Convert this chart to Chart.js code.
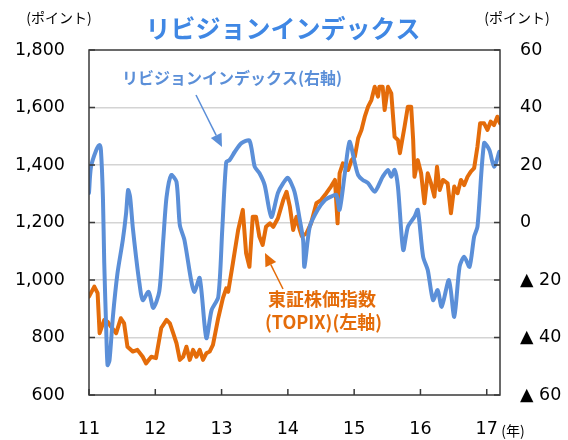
<!DOCTYPE html>
<html lang="ja">
<head>
<meta charset="utf-8">
<title>リビジョンインデックス</title>
<script src="https://cdn.jsdelivr.net/npm/chart.js@4.4.1/dist/chart.umd.min.js"></script>
<style>
  html, body { margin: 0; padding: 0; background: #fff; }
  #wrap { width: 568px; height: 440px; }
</style>
</head>
<body>
<div id="wrap"><canvas id="chart" width="568" height="440"></canvas></div>
<script>
// TOPIX (left axis)
const topixDates = [
    2011.00, 2011.08, 2011.13, 2011.16, 2011.23, 2011.28, 2011.33, 2011.41, 2011.48, 2011.53,
    2011.58, 2011.66, 2011.73, 2011.81, 2011.86, 2011.94, 2012.01, 2012.09, 2012.17, 2012.22,
    2012.27, 2012.32, 2012.37, 2012.42, 2012.47, 2012.52, 2012.57, 2012.62, 2012.67, 2012.72,
    2012.77, 2012.82, 2012.87, 2012.95, 2013.02, 2013.07, 2013.10, 2013.17, 2013.25, 2013.32,
    2013.37, 2013.42, 2013.47, 2013.52, 2013.57, 2013.62, 2013.67, 2013.73, 2013.78, 2013.85,
    2013.93, 2013.98, 2014.03, 2014.08, 2014.13, 2014.18, 2014.21, 2014.28, 2014.35, 2014.43,
    2014.50, 2014.58, 2014.65, 2014.71, 2014.75, 2014.78, 2014.83, 2014.91, 2014.96, 2015.01,
    2015.06, 2015.11, 2015.16, 2015.21, 2015.26, 2015.31, 2015.36, 2015.38, 2015.43, 2015.46,
    2015.51, 2015.56, 2015.61, 2015.66, 2015.69, 2015.76, 2015.81, 2015.86, 2015.89, 2015.91,
    2015.96, 2016.01, 2016.06, 2016.11, 2016.16, 2016.21, 2016.25, 2016.29, 2016.34, 2016.41,
    2016.46, 2016.51, 2016.56, 2016.61, 2016.66, 2016.71, 2016.76, 2016.81, 2016.86, 2016.90,
    2016.96, 2017.01, 2017.06, 2017.11, 2017.16, 2017.20
];
const topixValues = [
    942, 977, 954, 815, 861, 855, 838, 815, 867, 849,
    768, 751, 757, 733, 710, 733, 728, 833, 861, 849,
    815, 780, 722, 733, 768, 722, 757, 733, 757, 722,
    745, 751, 774, 868, 937, 971, 959, 1058, 1174, 1244,
    1093, 1046, 1220, 1220, 1151, 1122, 1185, 1197, 1185, 1215,
    1278, 1307, 1255, 1174, 1220, 1174, 1153, 1162, 1197, 1267,
    1278, 1302, 1325, 1348, 1197, 1371, 1406, 1383, 1417, 1429,
    1493, 1522, 1568, 1603, 1626, 1672, 1638, 1672, 1672, 1591,
    1672, 1649, 1498, 1487, 1441, 1533, 1603, 1603, 1487, 1359,
    1417, 1371, 1267, 1371, 1336, 1290, 1394, 1313, 1348, 1336,
    1232, 1325, 1302, 1348, 1330, 1359, 1377, 1389, 1464, 1545,
    1545, 1522, 1551, 1539, 1568, 1545
];

// revision index (right axis)
const revDates = [
    2011.00, 2011.03, 2011.11, 2011.16, 2011.18, 2011.21, 2011.23, 2011.26, 2011.28, 2011.31,
    2011.36, 2011.43, 2011.51, 2011.56, 2011.59, 2011.62, 2011.66, 2011.71, 2011.76, 2011.81,
    2011.90, 2011.97, 2012.06, 2012.12, 2012.17, 2012.24, 2012.32, 2012.37, 2012.44, 2012.54,
    2012.59, 2012.67, 2012.77, 2012.85, 2012.95, 2013.01, 2013.07, 2013.12, 2013.20, 2013.30,
    2013.42, 2013.50, 2013.57, 2013.65, 2013.75, 2013.85, 2013.93, 2014.00, 2014.10, 2014.18,
    2014.23, 2014.25, 2014.33, 2014.45, 2014.56, 2014.65, 2014.73, 2014.78, 2014.86, 2014.93,
    2015.01, 2015.06, 2015.13, 2015.21, 2015.31, 2015.43, 2015.51, 2015.56, 2015.61, 2015.66,
    2015.74, 2015.81, 2015.91, 2015.96, 2016.04, 2016.11, 2016.19, 2016.26, 2016.32, 2016.43,
    2016.51, 2016.59, 2016.66, 2016.74, 2016.81, 2016.86, 2016.96, 2017.04, 2017.11, 2017.19
];
const revValues = [
    10.3, 19.3, 25.2, 27.0, 25.2, 8.9, -14.1, -37.4, -49.6, -47.8,
    -32.9, -17.6, -6.1, 3.3, 11.3, 8.9, -1.6, -12.0, -21.0, -27.0,
    -24.1, -29.7, -24.0, -6.1, 8.9, 16.5, 14.1, -0.9, -6.1, -20.0,
    -24.2, -19.3, -40.2, -30.4, -25.9, -2.6, 21.0, 21.7, 24.6, 27.6,
    28.5, 19.4, 17.2, 13.0, 1.9, 10.3, 13.7, 15.5, 10.7, 0.9,
    -6.1, -15.4, -1.5, 4.4, 7.8, 9.0, 9.6, 4.4, 17.2, 28.1,
    20.7, 16.5, 14.8, 13.7, 10.7, 15.9, 18.3, 15.9, 18.3, 12.5,
    -9.6, -1.5, 2.0, 4.4, -11.9, -16.5, -27.0, -23.5, -29.3, -20.0,
    -32.8, -15.4, -11.9, -15.4, -4.9, -1.5, 27.6, 25.2, 19.4, 24.6
];

// axis ticks
const yearTicks = [2011, 2012, 2013, 2014, 2015, 2016, 2017];
const yearLabels = ['11', '12', '13', '14', '15', '16', '17'];
const leftTicks = [600, 800, 1000, 1200, 1400, 1600, 1800];
const rightTicks = [-60, -40, -20, 0, 20, 40, 60];

const BLUE = '#5B8FD8';
const ORANGE = '#E46C0A';
const tickFont = { family: 'DejaVu Sans', size: 17.5 };
const jp = 'Noto Sans CJK JP';

function arrow(ctx, x1, y1, x2, y2, color) {
    const ang = Math.atan2(y2 - y1, x2 - x1);
    const len = 13, half = 6;
    const bx = x2 - len * Math.cos(ang), by = y2 - len * Math.sin(ang);
    ctx.strokeStyle = color;
    ctx.fillStyle = color;
    ctx.lineWidth = 1.5;
    ctx.beginPath();
    ctx.moveTo(x1, y1);
    ctx.lineTo(bx, by);
    ctx.stroke();
    ctx.beginPath();
    ctx.moveTo(x2, y2);
    ctx.lineTo(bx + half * Math.sin(ang), by - half * Math.cos(ang));
    ctx.lineTo(bx - half * Math.sin(ang), by + half * Math.cos(ang));
    ctx.closePath();
    ctx.fill();
}

// frame, inward tick marks and the text labels
const decorations = {
    id: 'decorations',
    afterDraw(chart) {
        const { ctx, chartArea: a, scales } = chart;
        ctx.save();

        ctx.strokeStyle = '#3a3a3a';
        ctx.lineWidth = 1.5;
        ctx.strokeRect(a.left, a.top, a.right - a.left, a.bottom - a.top);

        ctx.beginPath();
        leftTicks.forEach(v => {
            const y = scales.y.getPixelForValue(v);
            ctx.moveTo(a.left, y);
            ctx.lineTo(a.left + 6, y);
        });
        rightTicks.forEach(v => {
            const y = scales.y2.getPixelForValue(v);
            ctx.moveTo(a.right, y);
            ctx.lineTo(a.right - 6, y);
        });
        yearTicks.forEach(v => {
            const x = scales.x.getPixelForValue(v);
            ctx.moveTo(x, a.bottom);
            ctx.lineTo(x, a.bottom - 6);
        });
        ctx.stroke();

        ctx.textBaseline = 'middle';
        ctx.textAlign = 'center';
        ctx.fillStyle = '#3F87E4';
        ctx.font = `bold 25px "${jp}"`;
        ctx.fillText('リビジョンインデックス', 283, 28);

        ctx.fillStyle = '#000';
        ctx.font = `14px "${jp}"`;
        ctx.fillText('(ポイント)', 59, 18);
        ctx.fillText('(ポイント)', 517, 18);
        ctx.fillText('(年)', 513, 431);

        ctx.textAlign = 'left';
        ctx.fillStyle = BLUE;
        ctx.font = `bold 16px "${jp}"`;
        ctx.fillText('リビジョンインデックス(右軸)', 122, 78);

        ctx.fillStyle = ORANGE;
        ctx.font = `bold 18px "${jp}"`;
        ctx.fillText('東証株価指数', 268, 299);
        ctx.fillText('(TOPIX)(左軸)', 265, 322);

        arrow(ctx, 196, 95, 222, 147, BLUE);
        arrow(ctx, 283, 289, 265, 253, ORANGE);

        ctx.restore();
    }
};

new Chart(document.getElementById('chart'), {
    type: 'line',
    data: {
        datasets: [
            {
                label: 'リビジョンインデックス(右軸)',
                data: revDates.map((t, i) => ({ x: t, y: revValues[i] })),
                yAxisID: 'y2',
                borderColor: BLUE,
                borderWidth: 4,
                pointRadius: 0,
                tension: 0.25,
                borderJoinStyle: 'round',
                borderCapStyle: 'round'
            },
            {
                label: '東証株価指数(TOPIX)(左軸)',
                data: topixDates.map((t, i) => ({ x: t, y: topixValues[i] })),
                yAxisID: 'y',
                borderColor: ORANGE,
                borderWidth: 4,
                pointRadius: 0,
                tension: 0,
                borderJoinStyle: 'round',
                borderCapStyle: 'round'
            }
        ]
    },
    options: {
        responsive: false,
        animation: false,
        layout: { padding: { top: 50, left: 0, right: 0, bottom: 0 } },
        plugins: {
            legend: { display: false },
            title: { display: false },
            tooltip: { enabled: false }
        },
        scales: {
            x: {
                type: 'linear',
                min: 2011,
                max: 2017.2,
                afterBuildTicks: s => { s.ticks = yearTicks.map(v => ({ value: v })); },
                afterFit: s => { s.height = 45; },
                grid: { display: false },
                border: { display: false },
                ticks: {
                    font: tickFont,
                    color: '#000',
                    padding: 16,
                    maxRotation: 0,
                    callback: v => yearLabels[yearTicks.indexOf(v)]
                }
            },
            y: {
                position: 'left',
                min: 600,
                max: 1800,
                afterBuildTicks: s => { s.ticks = leftTicks.map(v => ({ value: v })); },
                afterFit: s => { s.width = 89; },
                grid: {
                    drawTicks: false,
                    lineWidth: 1.5,
                    color: c => (c.tick && (c.tick.value === 600 || c.tick.value === 1800)) ? 'rgba(0,0,0,0)' : '#d4d4d4'
                },
                border: { display: false },
                ticks: {
                    font: tickFont,
                    color: '#000',
                    padding: 24,
                    callback: v => v.toLocaleString('en-US')
                }
            },
            y2: {
                position: 'right',
                min: -60,
                max: 60,
                afterBuildTicks: s => { s.ticks = rightTicks.map(v => ({ value: v })); },
                afterFit: s => { s.width = 68; },
                grid: { drawOnChartArea: false, drawTicks: false },
                border: { display: false },
                ticks: {
                    font: tickFont,
                    color: '#000',
                    padding: 20,
                    callback: v => v < 0 ? '▲ ' + (-v) : String(v)
                }
            }
        }
    },
    plugins: [decorations]
});
</script>
</body>
</html>
